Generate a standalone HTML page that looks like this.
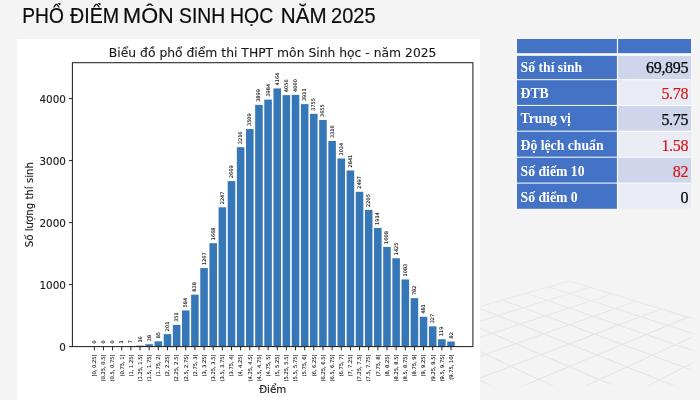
<!DOCTYPE html>
<html lang="vi"><head><meta charset="utf-8"><title>Phổ điểm môn Sinh học năm 2025</title>
<style>
html,body{margin:0;padding:0}
body{width:700px;height:400px;overflow:hidden;background:#f4f4f4;position:relative;font-family:"Liberation Sans",sans-serif}
.dj{font-family:"DejaVu Sans","Liberation Sans",sans-serif;fill:#1a1a1a;stroke:#1a1a1a;stroke-width:0.12px}
.sm{stroke:#1a1a1a;stroke-width:0.1px}
h1{position:absolute;left:0;top:0;width:400px;height:34px;margin:0;font-weight:400;font-size:20.3px;line-height:0}
h1 svg{display:block}
h1 text{font-family:"Liberation Sans",sans-serif;font-size:21.2px;fill:#0c0c0c;stroke:#0c0c0c;stroke-width:0.2px}
.t1{font-family:"Liberation Serif",serif;font-weight:700;font-size:13.7px;fill:#fff}
.t2{font-family:"Liberation Serif",serif;font-size:16px;letter-spacing:-0.3px;stroke-width:0.18px}
.k{fill:#050505;stroke:#050505;stroke-width:0.25px}.r{fill:#dc1414;stroke:#dc1414}
</style></head><body>
<svg width="700" height="400" viewBox="0 0 700 400" style="position:absolute;left:0;top:0">
<defs><linearGradient id="fb" x1="0" y1="0" x2="0" y2="1"><stop offset="0" stop-color="#f4f4f4" stop-opacity="0"/><stop offset="1" stop-color="#f4f4f4" stop-opacity="1"/></linearGradient><linearGradient id="fr" x1="0" y1="0" x2="1" y2="0"><stop offset="0" stop-color="#f4f4f4" stop-opacity="0"/><stop offset="1" stop-color="#f4f4f4" stop-opacity="1"/></linearGradient><linearGradient id="ft" x1="0" y1="0" x2="0" y2="1"><stop offset="0" stop-color="#f4f4f4" stop-opacity="0.55"/><stop offset="1" stop-color="#f4f4f4" stop-opacity="0"/></linearGradient><clipPath id="gc"><rect x="480" y="270" width="220" height="120"/></clipPath></defs>
<g clip-path="url(#gc)" stroke="#e6e6e6" stroke-width="1.15" fill="none">
<line x1="569.3" y1="280.9" x2="276.2" y2="364.9"/>
<line x1="590.1" y1="287.3" x2="293.7" y2="378.0"/>
<line x1="612.2" y1="294.0" x2="312.9" y2="392.3"/>
<line x1="635.8" y1="301.2" x2="333.9" y2="408.0"/>
<line x1="660.9" y1="308.9" x2="357.1" y2="425.3"/>
<line x1="687.7" y1="317.1" x2="382.8" y2="444.5"/>
<line x1="716.4" y1="325.8" x2="411.5" y2="465.9"/>
<line x1="747.3" y1="335.3" x2="443.6" y2="489.8"/>
<line x1="780.5" y1="345.4" x2="479.9" y2="516.9"/>
<line x1="816.4" y1="356.4" x2="521.2" y2="547.7"/>
<line x1="855.3" y1="368.2" x2="568.6" y2="583.0"/>
<line x1="569.3" y1="280.9" x2="855.3" y2="368.2"/>
<line x1="548.5" y1="286.9" x2="838.5" y2="380.8"/>
<line x1="526.2" y1="293.3" x2="820.0" y2="394.6"/>
<line x1="502.4" y1="300.1" x2="799.7" y2="409.9"/>
<line x1="477.0" y1="307.4" x2="777.3" y2="426.7"/>
<line x1="449.7" y1="315.2" x2="752.3" y2="445.4"/>
<line x1="420.2" y1="323.6" x2="724.3" y2="466.4"/>
<line x1="388.5" y1="332.7" x2="692.8" y2="490.0"/>
<line x1="354.1" y1="342.6" x2="657.0" y2="516.8"/>
<line x1="316.8" y1="353.3" x2="616.0" y2="547.5"/>
<line x1="276.2" y1="364.9" x2="568.6" y2="583.0"/>
</g>
<rect x="480" y="382" width="220" height="6.5" fill="url(#fb)"/><rect x="480" y="270" width="220" height="50" fill="url(#ft)"/><rect x="480" y="388.5" width="220" height="12" fill="#f4f4f4"/>
<rect x="688" y="270" width="9" height="130" fill="url(#fr)"/><rect x="696.5" y="270" width="4" height="130" fill="#f4f4f4"/>
<rect x="17" y="39" width="463" height="361" fill="#fff"/>
<rect x="117.97" y="346.54" width="7.55" height="0.06" fill="#3677b8"/>
<rect x="127.11" y="346.17" width="7.55" height="0.43" fill="#3677b8"/>
<rect x="136.26" y="345.61" width="7.55" height="0.99" fill="#3677b8"/>
<rect x="145.40" y="344.24" width="7.55" height="2.36" fill="#3677b8"/>
<rect x="154.55" y="341.33" width="7.55" height="5.27" fill="#3677b8"/>
<rect x="163.70" y="334.14" width="7.55" height="12.46" fill="#3677b8"/>
<rect x="172.84" y="324.84" width="7.55" height="21.76" fill="#3677b8"/>
<rect x="181.99" y="310.39" width="7.55" height="36.21" fill="#3677b8"/>
<rect x="191.13" y="294.64" width="7.55" height="51.96" fill="#3677b8"/>
<rect x="200.28" y="268.05" width="7.55" height="78.55" fill="#3677b8"/>
<rect x="209.43" y="243.18" width="7.55" height="103.42" fill="#3677b8"/>
<rect x="218.57" y="207.29" width="7.55" height="139.31" fill="#3677b8"/>
<rect x="227.72" y="181.12" width="7.55" height="165.48" fill="#3677b8"/>
<rect x="236.87" y="147.21" width="7.55" height="199.39" fill="#3677b8"/>
<rect x="246.01" y="129.04" width="7.55" height="217.56" fill="#3677b8"/>
<rect x="255.16" y="104.86" width="7.55" height="241.74" fill="#3677b8"/>
<rect x="264.30" y="99.59" width="7.55" height="247.01" fill="#3677b8"/>
<rect x="273.45" y="88.43" width="7.55" height="258.17" fill="#3677b8"/>
<rect x="282.60" y="95.13" width="7.55" height="251.47" fill="#3677b8"/>
<rect x="291.74" y="94.88" width="7.55" height="251.72" fill="#3677b8"/>
<rect x="300.89" y="104.12" width="7.55" height="242.48" fill="#3677b8"/>
<rect x="310.03" y="113.79" width="7.55" height="232.81" fill="#3677b8"/>
<rect x="319.18" y="119.99" width="7.55" height="226.61" fill="#3677b8"/>
<rect x="328.33" y="141.01" width="7.55" height="205.59" fill="#3677b8"/>
<rect x="337.47" y="158.49" width="7.55" height="188.11" fill="#3677b8"/>
<rect x="346.62" y="170.46" width="7.55" height="176.14" fill="#3677b8"/>
<rect x="355.77" y="191.79" width="7.55" height="154.81" fill="#3677b8"/>
<rect x="364.91" y="209.89" width="7.55" height="136.71" fill="#3677b8"/>
<rect x="374.06" y="227.93" width="7.55" height="118.67" fill="#3677b8"/>
<rect x="383.20" y="246.90" width="7.55" height="99.70" fill="#3677b8"/>
<rect x="392.35" y="258.25" width="7.55" height="88.35" fill="#3677b8"/>
<rect x="401.50" y="279.45" width="7.55" height="67.15" fill="#3677b8"/>
<rect x="410.64" y="298.12" width="7.55" height="48.48" fill="#3677b8"/>
<rect x="419.79" y="316.78" width="7.55" height="29.82" fill="#3677b8"/>
<rect x="428.93" y="326.33" width="7.55" height="20.27" fill="#3677b8"/>
<rect x="438.08" y="339.22" width="7.55" height="7.38" fill="#3677b8"/>
<rect x="447.23" y="341.52" width="7.55" height="5.08" fill="#3677b8"/>
<rect x="72.4" y="62.7" width="400.50" height="283.90" fill="none" stroke="#202020" stroke-width="1.05"/>
<line x1="68.9" y1="346.60" x2="72.4" y2="346.60" stroke="#1a1a1a" stroke-width="0.95"/>
<text x="65.9" y="350.80" font-size="10.4" text-anchor="end" class="dj">0</text>
<line x1="68.9" y1="284.60" x2="72.4" y2="284.60" stroke="#1a1a1a" stroke-width="0.95"/>
<text x="65.9" y="288.80" font-size="10.4" text-anchor="end" class="dj">1000</text>
<line x1="68.9" y1="222.60" x2="72.4" y2="222.60" stroke="#1a1a1a" stroke-width="0.95"/>
<text x="65.9" y="226.80" font-size="10.4" text-anchor="end" class="dj">2000</text>
<line x1="68.9" y1="160.60" x2="72.4" y2="160.60" stroke="#1a1a1a" stroke-width="0.95"/>
<text x="65.9" y="164.80" font-size="10.4" text-anchor="end" class="dj">3000</text>
<line x1="68.9" y1="98.60" x2="72.4" y2="98.60" stroke="#1a1a1a" stroke-width="0.95"/>
<text x="65.9" y="102.80" font-size="10.4" text-anchor="end" class="dj">4000</text>
<line x1="94.30" y1="346.6" x2="94.30" y2="350.3" stroke="#1a1a1a" stroke-width="0.95"/>
<text transform="translate(96.10,354.5) rotate(-90)" font-size="5.15" text-anchor="end" class="dj sm">[0, 0.25]</text>
<text transform="translate(95.80,343.60) rotate(-90)" font-size="5.0" text-anchor="start" class="dj sm">0</text>
<line x1="103.45" y1="346.6" x2="103.45" y2="350.3" stroke="#1a1a1a" stroke-width="0.95"/>
<text transform="translate(105.25,354.5) rotate(-90)" font-size="5.15" text-anchor="end" class="dj sm">(0.25, 0.5]</text>
<text transform="translate(104.95,343.60) rotate(-90)" font-size="5.0" text-anchor="start" class="dj sm">0</text>
<line x1="112.59" y1="346.6" x2="112.59" y2="350.3" stroke="#1a1a1a" stroke-width="0.95"/>
<text transform="translate(114.39,354.5) rotate(-90)" font-size="5.15" text-anchor="end" class="dj sm">(0.5, 0.75]</text>
<text transform="translate(114.09,343.60) rotate(-90)" font-size="5.0" text-anchor="start" class="dj sm">0</text>
<line x1="121.74" y1="346.6" x2="121.74" y2="350.3" stroke="#1a1a1a" stroke-width="0.95"/>
<text transform="translate(123.54,354.5) rotate(-90)" font-size="5.15" text-anchor="end" class="dj sm">(0.75, 1]</text>
<text transform="translate(123.24,343.54) rotate(-90)" font-size="5.0" text-anchor="start" class="dj sm">1</text>
<line x1="130.88" y1="346.6" x2="130.88" y2="350.3" stroke="#1a1a1a" stroke-width="0.95"/>
<text transform="translate(132.68,354.5) rotate(-90)" font-size="5.15" text-anchor="end" class="dj sm">(1, 1.25]</text>
<text transform="translate(132.38,343.17) rotate(-90)" font-size="5.0" text-anchor="start" class="dj sm">7</text>
<line x1="140.03" y1="346.6" x2="140.03" y2="350.3" stroke="#1a1a1a" stroke-width="0.95"/>
<text transform="translate(141.83,354.5) rotate(-90)" font-size="5.15" text-anchor="end" class="dj sm">(1.25, 1.5]</text>
<text transform="translate(141.53,342.61) rotate(-90)" font-size="5.0" text-anchor="start" class="dj sm">16</text>
<line x1="149.18" y1="346.6" x2="149.18" y2="350.3" stroke="#1a1a1a" stroke-width="0.95"/>
<text transform="translate(150.98,354.5) rotate(-90)" font-size="5.15" text-anchor="end" class="dj sm">(1.5, 1.75]</text>
<text transform="translate(150.68,341.24) rotate(-90)" font-size="5.0" text-anchor="start" class="dj sm">38</text>
<line x1="158.32" y1="346.6" x2="158.32" y2="350.3" stroke="#1a1a1a" stroke-width="0.95"/>
<text transform="translate(160.12,354.5) rotate(-90)" font-size="5.15" text-anchor="end" class="dj sm">(1.75, 2]</text>
<text transform="translate(159.82,338.33) rotate(-90)" font-size="5.0" text-anchor="start" class="dj sm">85</text>
<line x1="167.47" y1="346.6" x2="167.47" y2="350.3" stroke="#1a1a1a" stroke-width="0.95"/>
<text transform="translate(169.27,354.5) rotate(-90)" font-size="5.15" text-anchor="end" class="dj sm">(2, 2.25]</text>
<text transform="translate(168.97,331.14) rotate(-90)" font-size="5.0" text-anchor="start" class="dj sm">201</text>
<line x1="176.62" y1="346.6" x2="176.62" y2="350.3" stroke="#1a1a1a" stroke-width="0.95"/>
<text transform="translate(178.42,354.5) rotate(-90)" font-size="5.15" text-anchor="end" class="dj sm">(2.25, 2.5]</text>
<text transform="translate(178.12,321.84) rotate(-90)" font-size="5.0" text-anchor="start" class="dj sm">351</text>
<line x1="185.76" y1="346.6" x2="185.76" y2="350.3" stroke="#1a1a1a" stroke-width="0.95"/>
<text transform="translate(187.56,354.5) rotate(-90)" font-size="5.15" text-anchor="end" class="dj sm">(2.5, 2.75]</text>
<text transform="translate(187.26,307.39) rotate(-90)" font-size="5.0" text-anchor="start" class="dj sm">584</text>
<line x1="194.91" y1="346.6" x2="194.91" y2="350.3" stroke="#1a1a1a" stroke-width="0.95"/>
<text transform="translate(196.71,354.5) rotate(-90)" font-size="5.15" text-anchor="end" class="dj sm">(2.75, 3]</text>
<text transform="translate(196.41,291.64) rotate(-90)" font-size="5.0" text-anchor="start" class="dj sm">838</text>
<line x1="204.05" y1="346.6" x2="204.05" y2="350.3" stroke="#1a1a1a" stroke-width="0.95"/>
<text transform="translate(205.85,354.5) rotate(-90)" font-size="5.15" text-anchor="end" class="dj sm">(3, 3.25]</text>
<text transform="translate(205.55,265.05) rotate(-90)" font-size="5.0" text-anchor="start" class="dj sm">1267</text>
<line x1="213.20" y1="346.6" x2="213.20" y2="350.3" stroke="#1a1a1a" stroke-width="0.95"/>
<text transform="translate(215.00,354.5) rotate(-90)" font-size="5.15" text-anchor="end" class="dj sm">(3.25, 3.5]</text>
<text transform="translate(214.70,240.18) rotate(-90)" font-size="5.0" text-anchor="start" class="dj sm">1668</text>
<line x1="222.35" y1="346.6" x2="222.35" y2="350.3" stroke="#1a1a1a" stroke-width="0.95"/>
<text transform="translate(224.15,354.5) rotate(-90)" font-size="5.15" text-anchor="end" class="dj sm">(3.5, 3.75]</text>
<text transform="translate(223.85,204.29) rotate(-90)" font-size="5.0" text-anchor="start" class="dj sm">2247</text>
<line x1="231.49" y1="346.6" x2="231.49" y2="350.3" stroke="#1a1a1a" stroke-width="0.95"/>
<text transform="translate(233.29,354.5) rotate(-90)" font-size="5.15" text-anchor="end" class="dj sm">(3.75, 4]</text>
<text transform="translate(232.99,178.12) rotate(-90)" font-size="5.0" text-anchor="start" class="dj sm">2669</text>
<line x1="240.64" y1="346.6" x2="240.64" y2="350.3" stroke="#1a1a1a" stroke-width="0.95"/>
<text transform="translate(242.44,354.5) rotate(-90)" font-size="5.15" text-anchor="end" class="dj sm">(4, 4.25]</text>
<text transform="translate(242.14,144.21) rotate(-90)" font-size="5.0" text-anchor="start" class="dj sm">3216</text>
<line x1="249.78" y1="346.6" x2="249.78" y2="350.3" stroke="#1a1a1a" stroke-width="0.95"/>
<text transform="translate(251.58,354.5) rotate(-90)" font-size="5.15" text-anchor="end" class="dj sm">(4.25, 4.5]</text>
<text transform="translate(251.28,126.04) rotate(-90)" font-size="5.0" text-anchor="start" class="dj sm">3509</text>
<line x1="258.93" y1="346.6" x2="258.93" y2="350.3" stroke="#1a1a1a" stroke-width="0.95"/>
<text transform="translate(260.73,354.5) rotate(-90)" font-size="5.15" text-anchor="end" class="dj sm">(4.5, 4.75]</text>
<text transform="translate(260.43,101.86) rotate(-90)" font-size="5.0" text-anchor="start" class="dj sm">3899</text>
<line x1="268.08" y1="346.6" x2="268.08" y2="350.3" stroke="#1a1a1a" stroke-width="0.95"/>
<text transform="translate(269.88,354.5) rotate(-90)" font-size="5.15" text-anchor="end" class="dj sm">(4.75, 5]</text>
<text transform="translate(269.58,96.59) rotate(-90)" font-size="5.0" text-anchor="start" class="dj sm">3984</text>
<line x1="277.22" y1="346.6" x2="277.22" y2="350.3" stroke="#1a1a1a" stroke-width="0.95"/>
<text transform="translate(279.02,354.5) rotate(-90)" font-size="5.15" text-anchor="end" class="dj sm">(5, 5.25]</text>
<text transform="translate(278.72,85.43) rotate(-90)" font-size="5.0" text-anchor="start" class="dj sm">4164</text>
<line x1="286.37" y1="346.6" x2="286.37" y2="350.3" stroke="#1a1a1a" stroke-width="0.95"/>
<text transform="translate(288.17,354.5) rotate(-90)" font-size="5.15" text-anchor="end" class="dj sm">(5.25, 5.5]</text>
<text transform="translate(287.87,92.13) rotate(-90)" font-size="5.0" text-anchor="start" class="dj sm">4056</text>
<line x1="295.52" y1="346.6" x2="295.52" y2="350.3" stroke="#1a1a1a" stroke-width="0.95"/>
<text transform="translate(297.32,354.5) rotate(-90)" font-size="5.15" text-anchor="end" class="dj sm">(5.5, 5.75]</text>
<text transform="translate(297.02,91.88) rotate(-90)" font-size="5.0" text-anchor="start" class="dj sm">4060</text>
<line x1="304.66" y1="346.6" x2="304.66" y2="350.3" stroke="#1a1a1a" stroke-width="0.95"/>
<text transform="translate(306.46,354.5) rotate(-90)" font-size="5.15" text-anchor="end" class="dj sm">(5.75, 6]</text>
<text transform="translate(306.16,101.12) rotate(-90)" font-size="5.0" text-anchor="start" class="dj sm">3911</text>
<line x1="313.81" y1="346.6" x2="313.81" y2="350.3" stroke="#1a1a1a" stroke-width="0.95"/>
<text transform="translate(315.61,354.5) rotate(-90)" font-size="5.15" text-anchor="end" class="dj sm">(6, 6.25]</text>
<text transform="translate(315.31,110.79) rotate(-90)" font-size="5.0" text-anchor="start" class="dj sm">3755</text>
<line x1="322.95" y1="346.6" x2="322.95" y2="350.3" stroke="#1a1a1a" stroke-width="0.95"/>
<text transform="translate(324.75,354.5) rotate(-90)" font-size="5.15" text-anchor="end" class="dj sm">(6.25, 6.5]</text>
<text transform="translate(324.45,116.99) rotate(-90)" font-size="5.0" text-anchor="start" class="dj sm">3655</text>
<line x1="332.10" y1="346.6" x2="332.10" y2="350.3" stroke="#1a1a1a" stroke-width="0.95"/>
<text transform="translate(333.90,354.5) rotate(-90)" font-size="5.15" text-anchor="end" class="dj sm">(6.5, 6.75]</text>
<text transform="translate(333.60,138.01) rotate(-90)" font-size="5.0" text-anchor="start" class="dj sm">3316</text>
<line x1="341.25" y1="346.6" x2="341.25" y2="350.3" stroke="#1a1a1a" stroke-width="0.95"/>
<text transform="translate(343.05,354.5) rotate(-90)" font-size="5.15" text-anchor="end" class="dj sm">(6.75, 7]</text>
<text transform="translate(342.75,155.49) rotate(-90)" font-size="5.0" text-anchor="start" class="dj sm">3034</text>
<line x1="350.39" y1="346.6" x2="350.39" y2="350.3" stroke="#1a1a1a" stroke-width="0.95"/>
<text transform="translate(352.19,354.5) rotate(-90)" font-size="5.15" text-anchor="end" class="dj sm">(7, 7.25]</text>
<text transform="translate(351.89,167.46) rotate(-90)" font-size="5.0" text-anchor="start" class="dj sm">2841</text>
<line x1="359.54" y1="346.6" x2="359.54" y2="350.3" stroke="#1a1a1a" stroke-width="0.95"/>
<text transform="translate(361.34,354.5) rotate(-90)" font-size="5.15" text-anchor="end" class="dj sm">(7.25, 7.5]</text>
<text transform="translate(361.04,188.79) rotate(-90)" font-size="5.0" text-anchor="start" class="dj sm">2497</text>
<line x1="368.68" y1="346.6" x2="368.68" y2="350.3" stroke="#1a1a1a" stroke-width="0.95"/>
<text transform="translate(370.48,354.5) rotate(-90)" font-size="5.15" text-anchor="end" class="dj sm">(7.5, 7.75]</text>
<text transform="translate(370.18,206.89) rotate(-90)" font-size="5.0" text-anchor="start" class="dj sm">2205</text>
<line x1="377.83" y1="346.6" x2="377.83" y2="350.3" stroke="#1a1a1a" stroke-width="0.95"/>
<text transform="translate(379.63,354.5) rotate(-90)" font-size="5.15" text-anchor="end" class="dj sm">(7.75, 8]</text>
<text transform="translate(379.33,224.93) rotate(-90)" font-size="5.0" text-anchor="start" class="dj sm">1914</text>
<line x1="386.98" y1="346.6" x2="386.98" y2="350.3" stroke="#1a1a1a" stroke-width="0.95"/>
<text transform="translate(388.78,354.5) rotate(-90)" font-size="5.15" text-anchor="end" class="dj sm">(8, 8.25]</text>
<text transform="translate(388.48,243.90) rotate(-90)" font-size="5.0" text-anchor="start" class="dj sm">1608</text>
<line x1="396.12" y1="346.6" x2="396.12" y2="350.3" stroke="#1a1a1a" stroke-width="0.95"/>
<text transform="translate(397.92,354.5) rotate(-90)" font-size="5.15" text-anchor="end" class="dj sm">(8.25, 8.5]</text>
<text transform="translate(397.62,255.25) rotate(-90)" font-size="5.0" text-anchor="start" class="dj sm">1425</text>
<line x1="405.27" y1="346.6" x2="405.27" y2="350.3" stroke="#1a1a1a" stroke-width="0.95"/>
<text transform="translate(407.07,354.5) rotate(-90)" font-size="5.15" text-anchor="end" class="dj sm">(8.5, 8.75]</text>
<text transform="translate(406.77,276.45) rotate(-90)" font-size="5.0" text-anchor="start" class="dj sm">1083</text>
<line x1="414.42" y1="346.6" x2="414.42" y2="350.3" stroke="#1a1a1a" stroke-width="0.95"/>
<text transform="translate(416.22,354.5) rotate(-90)" font-size="5.15" text-anchor="end" class="dj sm">(8.75, 9]</text>
<text transform="translate(415.92,295.12) rotate(-90)" font-size="5.0" text-anchor="start" class="dj sm">782</text>
<line x1="423.56" y1="346.6" x2="423.56" y2="350.3" stroke="#1a1a1a" stroke-width="0.95"/>
<text transform="translate(425.36,354.5) rotate(-90)" font-size="5.15" text-anchor="end" class="dj sm">(9, 9.25]</text>
<text transform="translate(425.06,313.78) rotate(-90)" font-size="5.0" text-anchor="start" class="dj sm">481</text>
<line x1="432.71" y1="346.6" x2="432.71" y2="350.3" stroke="#1a1a1a" stroke-width="0.95"/>
<text transform="translate(434.51,354.5) rotate(-90)" font-size="5.15" text-anchor="end" class="dj sm">(9.25, 9.5]</text>
<text transform="translate(434.21,323.33) rotate(-90)" font-size="5.0" text-anchor="start" class="dj sm">327</text>
<line x1="441.85" y1="346.6" x2="441.85" y2="350.3" stroke="#1a1a1a" stroke-width="0.95"/>
<text transform="translate(443.65,354.5) rotate(-90)" font-size="5.15" text-anchor="end" class="dj sm">(9.5, 9.75]</text>
<text transform="translate(443.35,336.22) rotate(-90)" font-size="5.0" text-anchor="start" class="dj sm">119</text>
<line x1="451.00" y1="346.6" x2="451.00" y2="350.3" stroke="#1a1a1a" stroke-width="0.95"/>
<text transform="translate(452.80,354.5) rotate(-90)" font-size="5.15" text-anchor="end" class="dj sm">(9.75, 10]</text>
<text transform="translate(452.50,338.52) rotate(-90)" font-size="5.0" text-anchor="start" class="dj sm">82</text>
<text x="272.65" y="57.0" font-size="12.35" text-anchor="middle" class="dj">Biểu đồ phổ điểm thi THPT môn Sinh học - năm 2025</text>
<text x="272.65" y="392.7" font-size="10.2" text-anchor="middle" class="dj">Điểm</text>
<text transform="translate(33,204.65) rotate(-90)" font-size="10.2" text-anchor="middle" class="dj">Số lượng thí sinh</text>
<rect x="517.0" y="39" width="174.0" height="169.8" fill="#fff"/>
<rect x="517.0" y="39" width="99.90" height="14.2" fill="#4472c4"/><rect x="618.1" y="39" width="72.90" height="14.2" fill="#4472c4"/>
<rect x="517.0" y="55.8" width="99.90" height="23.40" fill="#4472c4"/><rect x="618.1" y="55.8" width="72.90" height="23.40" fill="#cfd5ea"/>
<rect x="517.0" y="80.2" width="99.90" height="24.70" fill="#4472c4"/><rect x="618.1" y="80.2" width="72.90" height="24.70" fill="#e9ebf5"/>
<rect x="517.0" y="105.9" width="99.90" height="24.80" fill="#4472c4"/><rect x="618.1" y="105.9" width="72.90" height="24.80" fill="#cfd5ea"/>
<rect x="517.0" y="131.7" width="99.90" height="25.00" fill="#4472c4"/><rect x="618.1" y="131.7" width="72.90" height="25.00" fill="#e9ebf5"/>
<rect x="517.0" y="157.7" width="99.90" height="24.90" fill="#4472c4"/><rect x="618.1" y="157.7" width="72.90" height="24.90" fill="#cfd5ea"/>
<rect x="517.0" y="183.6" width="99.90" height="25.20" fill="#4472c4"/><rect x="618.1" y="183.6" width="72.90" height="25.20" fill="#e9ebf5"/>
<text x="520.6" y="72.3" class="t1">Số thí sinh</text>
<text x="688.2" y="72.9" class="t2 k" text-anchor="end">69,895</text>
<text x="520.6" y="97.5" class="t1">ĐTB</text>
<text x="688.2" y="98.5" class="t2 r" text-anchor="end">5.78</text>
<text x="520.6" y="123.3" class="t1">Trung vị</text>
<text x="688.2" y="124.5" class="t2 k" text-anchor="end">5.75</text>
<text x="520.6" y="149.5" class="t1">Độ lệch chuẩn</text>
<text x="688.2" y="150.5" class="t2 r" text-anchor="end">1.58</text>
<text x="520.6" y="175.9" class="t1">Số điểm 10</text>
<text x="688.2" y="177.0" class="t2 r" text-anchor="end">82</text>
<text x="520.6" y="201.8" class="t1">Số điểm 0</text>
<text x="688.2" y="203.0" class="t2 k" text-anchor="end">0</text>
</svg>
<h1><svg width="400" height="34" viewBox="0 0 400 34"><text x="22.25" y="22.6" textLength="41.56" lengthAdjust="spacingAndGlyphs">PHỔ</text> <text x="70.0" y="22.6" textLength="49.15" lengthAdjust="spacingAndGlyphs">ĐIỂM</text> <text x="123.13" y="22.6" textLength="50.66" lengthAdjust="spacingAndGlyphs">MÔN</text> <text x="179.05" y="22.6" textLength="46.19" lengthAdjust="spacingAndGlyphs">SINH</text> <text x="230.02" y="22.6" textLength="43.17" lengthAdjust="spacingAndGlyphs">HỌC</text> <text x="280.82" y="22.6" textLength="45.78" lengthAdjust="spacingAndGlyphs">NĂM</text> <text x="331.12" y="22.6" textLength="44.45" lengthAdjust="spacingAndGlyphs">2025</text></svg></h1>
</body></html>
